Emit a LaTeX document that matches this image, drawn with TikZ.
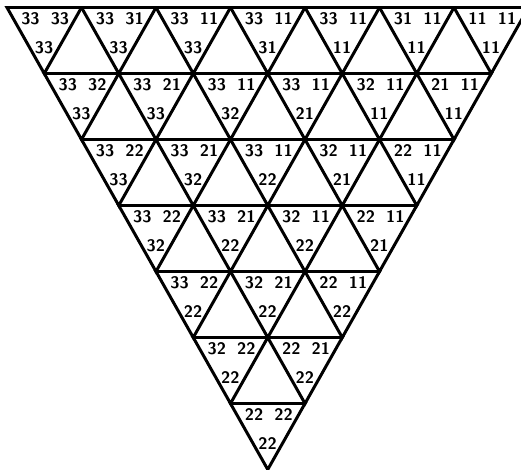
\documentclass[tikz,border=0pt]{standalone}
\usepackage{tikz}
\begin{document}
\begin{tikzpicture}[x=0.02cm,y=-0.02cm,
  tri/.style={draw,line width=1.7pt},
  num/.style={font=\sffamily\bfseries\fontsize{9.5}{9.5}\selectfont,inner sep=0pt}]
\useasboundingbox (0,0) rectangle (521,470);
\clip (0,0) rectangle (521,470);
\foreach \r/\k/\lt/\rt/\bt in {0/0/33/33/33,0/1/33/31/33,0/2/33/11/33,0/3/33/11/31,0/4/33/11/11,0/5/31/11/11,0/6/11/11/11,
  1/0/33/32/33,1/1/33/21/33,1/2/33/11/32,1/3/33/11/21,1/4/32/11/11,1/5/21/11/11,
  2/0/33/22/33,2/1/33/21/32,2/2/33/11/22,2/3/32/11/21,2/4/22/11/11,
  3/0/33/22/32,3/1/33/21/22,3/2/32/11/22,3/3/22/11/21,
  4/0/33/22/22,4/1/32/21/22,4/2/22/11/22,
  5/0/32/22/22,5/1/22/21/22,
  6/0/22/22/22}{
  \pgfmathsetmacro\xl{7+37.25*\r+74.5*\k}
  \pgfmathsetmacro\yt{7.5+66*\r}
  \draw[tri] (\xl,\yt) -- ++(74.5,0) -- ++(-37.25,66) -- cycle;
  \node[num] (l\r\k) at (\xl+23.5,\yt+11.5) {\lt};
  \node[num] (r\r\k) at (\xl+53,\yt+11.5) {\rt};
  \node[num] (b\r\k) at (\xl+37,\yt+40) {\bt};
}
\end{tikzpicture}
\end{document}
